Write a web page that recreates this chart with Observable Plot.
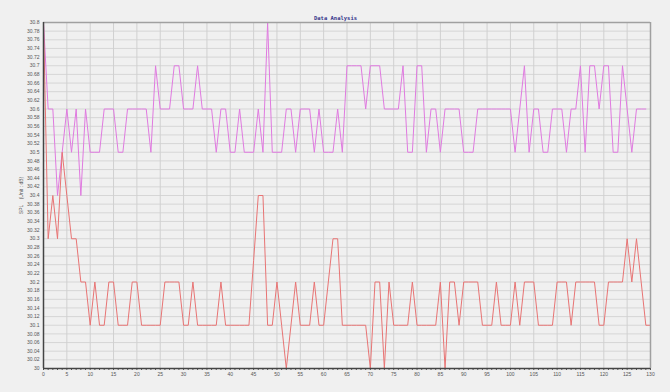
<!DOCTYPE html>
<html>
<head>
<meta charset="utf-8">
<script src="https://cdn.jsdelivr.net/npm/d3@7"></script>
<script src="https://cdn.jsdelivr.net/npm/@observablehq/plot@0.6"></script>
<style>
  html, body { margin: 0; padding: 0; background: #f0f0f0; }
  #chart svg { display: block; }
</style>
</head>
<body>
<div id="chart"></div>
<script>
const title = "Data Analysis";
const yLabel = "SPL    (Unit : dB)";
const xTicks = [0,5,10,15,20,25,30,35,40,45,50,55,60,65,70,75,80,85,90,95,100,105,110,115,120,125,130];
const yTicks = [30,30.02,30.04,30.06,30.08,30.1,30.12,30.14,30.16,30.18,30.2,30.22,30.24,30.26,30.28,30.3,30.32,30.34,30.36,30.38,30.4,30.42,30.44,30.46,30.48,30.5,30.52,30.54,30.56,30.58,30.6,30.62,30.64,30.66,30.68,30.7,30.72,30.74,30.76,30.78,30.8];

// upper (violet) series, samples 0..129
const seriesA = [
  30.8,30.6,30.6,30.4,30.5,30.6,30.5,30.6,30.4,30.6,
  30.5,30.5,30.5,30.6,30.6,30.6,30.5,30.5,30.6,30.6,
  30.6,30.6,30.6,30.5,30.7,30.6,30.6,30.6,30.7,30.7,
  30.6,30.6,30.6,30.7,30.6,30.6,30.6,30.5,30.6,30.6,
  30.5,30.5,30.6,30.5,30.5,30.5,30.6,30.5,30.8,30.5,
  30.5,30.5,30.6,30.6,30.5,30.6,30.6,30.6,30.5,30.6,
  30.5,30.5,30.5,30.6,30.5,30.7,30.7,30.7,30.7,30.6,
  30.7,30.7,30.7,30.6,30.6,30.6,30.6,30.7,30.5,30.5,
  30.7,30.7,30.5,30.6,30.6,30.5,30.6,30.6,30.6,30.6,
  30.5,30.5,30.5,30.6,30.6,30.6,30.6,30.6,30.6,30.6,
  30.6,30.5,30.6,30.7,30.5,30.6,30.6,30.5,30.5,30.6,
  30.6,30.6,30.5,30.6,30.6,30.7,30.5,30.7,30.7,30.6,
  30.7,30.7,30.5,30.5,30.7,30.6,30.5,30.6,30.6,30.6
];

// lower (red) series, samples 0..130
const seriesB = [
  30.8,30.3,30.4,30.3,30.5,30.4,30.3,30.3,30.2,30.2,
  30.1,30.2,30.1,30.1,30.2,30.2,30.1,30.1,30.1,30.2,
  30.2,30.1,30.1,30.1,30.1,30.1,30.2,30.2,30.2,30.2,
  30.1,30.1,30.2,30.1,30.1,30.1,30.1,30.1,30.2,30.1,
  30.1,30.1,30.1,30.1,30.1,30.25,30.4,30.4,30.1,30.1,
  30.2,30.1,30.0,30.1,30.2,30.1,30.1,30.1,30.2,30.1,
  30.1,30.2,30.3,30.3,30.1,30.1,30.1,30.1,30.1,30.1,
  30.0,30.2,30.2,30.0,30.2,30.1,30.1,30.1,30.1,30.2,
  30.1,30.1,30.1,30.1,30.1,30.2,30.0,30.2,30.2,30.1,
  30.2,30.2,30.2,30.2,30.1,30.1,30.1,30.2,30.1,30.1,
  30.1,30.2,30.1,30.2,30.2,30.2,30.1,30.1,30.1,30.1,
  30.2,30.2,30.2,30.1,30.2,30.2,30.2,30.2,30.2,30.1,
  30.1,30.2,30.2,30.2,30.2,30.3,30.2,30.3,30.2,30.1,30.1
];

const colorA = "#e07ae0";
const colorB = "#e87474";

const dataA = seriesA.map((v, i) => ({x: i, y: v}));
const dataB = seriesB.map((v, i) => ({x: i, y: v}));
const minorX = d3.range(0, 131);

const fmt = d3.format(".2~f");

const chart = Plot.plot({
  width: 670,
  height: 392,
  marginLeft: 43,
  marginRight: 20,
  marginTop: 22,
  marginBottom: 24,
  style: {background: "#f0f0f0", fontFamily: "Liberation Sans, sans-serif", fontSize: "5px", color: "#555"},
  x: {domain: [0, 130], label: null},
  y: {domain: [30, 30.8]},
  marks: [
    Plot.gridY(yTicks, {stroke: "#d6d6d6", strokeOpacity: 1, strokeWidth: 1}),
    Plot.gridX(xTicks, {stroke: "#d0d0d0", strokeOpacity: 1, strokeWidth: 1}),
    Plot.line(dataA, {x: "x", y: "y", stroke: colorA, strokeWidth: 1}),
    Plot.line(dataB, {x: "x", y: "y", stroke: colorB, strokeWidth: 1}),
    Plot.axisX(minorX, {tickSize: 2, text: null, stroke: "#555", label: null}),
    Plot.axisX(xTicks, {tickSize: 0, tickPadding: 4, fill: "#555", fontSize: 5, label: null}),
    Plot.axisY(yTicks, {tickSize: 0, tickPadding: 4, tickFormat: fmt, fill: "#555", fontSize: 5,
      label: yLabel, labelAnchor: "center", labelArrow: "none", labelOffset: 24}),
    Plot.ruleY([30.8], {stroke: "#a0a0a0", strokeWidth: 1.5}),
    Plot.ruleX([130], {stroke: "#a0a0a0", strokeWidth: 1.5}),
    Plot.ruleY([30], {stroke: "#444", strokeWidth: 1.5}),
    Plot.ruleX([0], {stroke: "#444", strokeWidth: 1.5}),
    Plot.text([title], {frameAnchor: "top-left", dx: 292, dy: -6, text: d => d, textAnchor: "middle",
      fill: "#34348a", fontSize: 5.5, fontWeight: "bold", fontFamily: "DejaVu Sans Mono, monospace"})
  ]
});

document.getElementById("chart").appendChild(chart);
</script>
</body>
</html>
